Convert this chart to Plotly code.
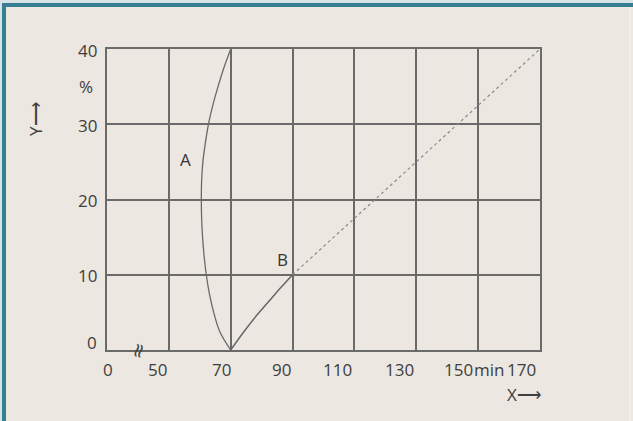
import plotly.graph_objects as go

# Data
curve_a_y = [0, 2.5, 5, 7.5, 10, 12.5, 15, 17.5, 20, 22.5, 25, 27.5, 30, 32.5, 35, 37.5, 40]
curve_a_x = [70, 66.4, 64.5, 63.1, 62.1, 61.4, 60.9, 60.6, 60.5, 60.6, 61.0, 61.8, 62.8, 64.2, 65.9, 67.8, 70]
curve_b_x = [70, 74, 78, 82, 86, 90]
curve_b_y = [0, 2.3, 4.4, 6.3, 8.2, 10]
dotted_x = [90, 170]
dotted_y = [10, 40]
x_tickvals = [30, 50, 70, 90, 110, 130, 150, 170]
x_ticktext = ["0", "50", "70", "90", "110", "130", "150", "170"]
y_tickvals = [0, 10, 20, 30, 40]
y_ticktext = ["0", "10", "20", "30", "40"]

W, H = 633, 421
L, R, T, B = 107, 93, 49, 71
PW, PH = W - L - R, H - T - B

def px(X):
    return (X - L) / PW

def py(Y):
    return (H - B - Y) / PH

BG = "#ece7e1"
GRID = "#6a6a6a"
TXT = "#3e3e3e"
FONT = "Open Sans"
FS = 17

fig = go.Figure()
fig.add_trace(go.Scatter(x=curve_a_x, y=curve_a_y, mode="lines",
                         line=dict(color="#6a6a6a", width=1.3, shape="spline", smoothing=1),
                         hoverinfo="skip", showlegend=False))
fig.add_trace(go.Scatter(x=curve_b_x, y=curve_b_y, mode="lines",
                         line=dict(color="#666666", width=1.5, shape="spline", smoothing=0.8),
                         hoverinfo="skip", showlegend=False))
fig.add_trace(go.Scatter(x=dotted_x, y=dotted_y, mode="lines",
                         line=dict(color="#8a8a8a", width=1.2, dash="dot"),
                         hoverinfo="skip", showlegend=False))

xshifts = {"0": 0, "50": -1, "70": 1, "90": -1, "110": -1, "130": -1, "150": -4, "170": -3}
ann = []
for v, t in zip(x_tickvals, x_ticktext):
    if t == "0":
        ann.append(dict(x=v, y=0, xref="x", yref="paper", text=t, showarrow=False,
                        xanchor="center", yanchor="middle", yshift=-19, xshift=1, borderpad=0,
                        font=dict(family=FONT, size=FS, color=TXT)))
    else:
        ann.append(dict(x=v, y=0, xref="x", yref="paper", text=t, showarrow=False,
                        xanchor="right", yanchor="middle", yshift=-19, xshift=xshifts[t], borderpad=0,
                        font=dict(family=FONT, size=FS, color=TXT)))
ann.append(dict(x=150, y=0, xref="x", yref="paper", text="min", showarrow=False,
                xanchor="left", yanchor="middle", yshift=-19, xshift=-5, borderpad=0,
                font=dict(family=FONT, size=FS, color=TXT)))
for v, t in zip(y_tickvals, y_ticktext):
    ann.append(dict(x=0, y=v, xref="paper", yref="y", text=t, showarrow=False,
                    xanchor="right", yanchor="middle", xshift=-8,
                    yshift=8 if v == 0 else -1,
                    font=dict(family=FONT, size=FS, color=TXT)))
ann += [
    dict(x=px(86), y=py(86), xref="paper", yref="paper", text="%", showarrow=False,
         xanchor="center", yanchor="middle",
         font=dict(family=FONT, size=FS, color=TXT)),
    dict(x=px(36), y=py(119), xref="paper", yref="paper", text="Y\u27f6", showarrow=False,
         xanchor="center", yanchor="middle",
         textangle=-90, font=dict(family=FONT, size=FS, color=TXT)),
    dict(x=px(524), y=py(394), xref="paper", yref="paper", text="X\u27f6", showarrow=False,
         xanchor="center", yanchor="middle",
         font=dict(family=FONT, size=FS, color=TXT)),
    dict(x=55.5, y=25.3, xref="x", yref="y", text="A", showarrow=False,
         font=dict(family=FONT, size=FS, color="#333333")),
    dict(x=86.8, y=12.0, xref="x", yref="y", text="B", showarrow=False,
         font=dict(family=FONT, size=FS, color="#333333")),
    dict(x=40, y=0, xref="x", yref="y", text="\u2248", showarrow=False,
         textangle=-75, font=dict(family="DejaVu Sans", size=20, color="#444444")),
]

shapes = [
    dict(type="rect", xref="paper", yref="paper", x0=px(0), x1=px(W), y0=py(3), y1=py(0),
         fillcolor="#d9e2e6", line=dict(width=0), layer="below"),
    dict(type="rect", xref="paper", yref="paper", x0=px(0), x1=px(2), y0=py(H), y1=py(0),
         fillcolor="#d9e2e6", line=dict(width=0), layer="below"),
    dict(type="rect", xref="paper", yref="paper", x0=px(2), x1=px(W), y0=py(7), y1=py(3),
         fillcolor="#367f93", line=dict(width=0), layer="below"),
    dict(type="rect", xref="paper", yref="paper", x0=px(2), x1=px(6), y0=py(H), y1=py(3),
         fillcolor="#367f93", line=dict(width=0), layer="below"),
    dict(type="line", xref="paper", yref="paper", x0=px(630), x1=px(630), y0=py(H), y1=py(7),
         line=dict(color="#f6f2ee", width=1.5), layer="below"),
]

fig.update_layout(
    width=W, height=H,
    margin=dict(l=L, r=R, t=T, b=B),
    paper_bgcolor=BG, plot_bgcolor=BG,
    showlegend=False,
    annotations=ann, shapes=shapes,
    xaxis=dict(range=[30, 170], tickvals=x_tickvals, showticklabels=False,
               showgrid=True, gridcolor=GRID, gridwidth=1.5, zeroline=False,
               showline=True, linecolor=GRID, linewidth=1.5, mirror=True, ticks=""),
    yaxis=dict(range=[0, 40], tickvals=y_tickvals, showticklabels=False,
               showgrid=True, gridcolor=GRID, gridwidth=1.5, zeroline=False,
               showline=True, linecolor=GRID, linewidth=1.5, mirror=True, ticks=""),
)

fig.write_html("out.html", config={"displayModeBar": False},
               post_script="document.body.style.margin='0';document.body.style.overflow='hidden';")
